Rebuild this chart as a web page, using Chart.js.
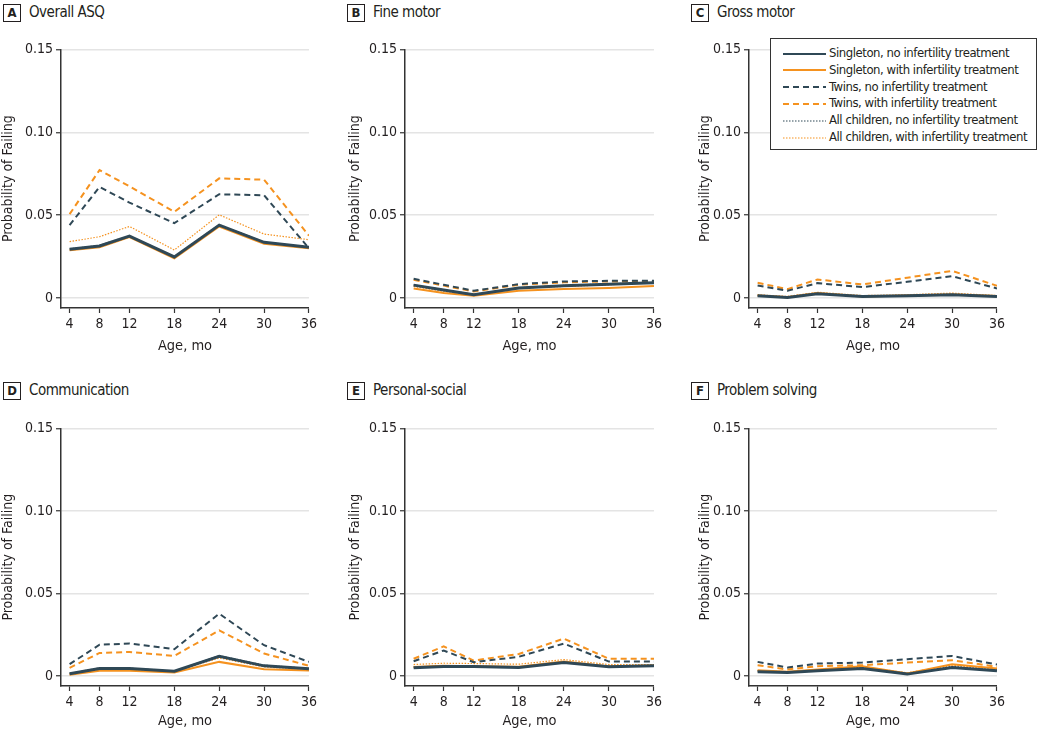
<!DOCTYPE html>
<html>
<head>
<meta charset="utf-8">
<script src="https://cdn.jsdelivr.net/npm/chart.js@4.4.1/dist/chart.umd.min.js"></script>
<style>
  body { margin: 0; background: #fff; width: 1050px; height: 730px; position: relative; overflow: hidden;
         font-family: "Liberation Sans Narrow", "DejaVu Sans Condensed", Roboto, sans-serif; color: #231f20; }
  canvas { position: absolute; }
  .ttl { position: absolute; font-size: 15px; line-height: 18px; white-space: nowrap; letter-spacing: -0.5px; }
  .ttl b { display: inline-block; width: 16px; height: 16px; border: 1px solid #231f20; text-align: center;
           line-height: 16px; font-size: 13px; margin-right: 8px; letter-spacing: 0; }
  .legend { position: absolute; left: 770px; top: 38px; width: 265px; height: 110px; border: 1px solid #333;
            background: #fff; font-size: 13px; letter-spacing: -0.45px; z-index: 2; }
  .row { position: absolute; left: 12px; height: 17px; line-height: 17px; white-space: nowrap; }
  .row svg { vertical-align: middle; margin-right: 3px; }
</style>
</head>
<body>
<script>
  const ages = [4, 8, 12, 18, 24, 30, 36];
  const yTicks = [0, 0.05, 0.1, 0.15];
  const yTickLabels = ["0", "0.05", "0.10", "0.15"];
  const seriesNames = [
    "Singleton, no infertility treatment",
    "Singleton, with infertility treatment",
    "Twins, no infertility treatment",
    "Twins, with infertility treatment",
    "All children, no infertility treatment",
    "All children, with infertility treatment"
  ];

  // A Overall ASQ
  const overallSingNo = [0.0294, 0.0314, 0.0374, 0.0248, 0.044, 0.0336, 0.0306];
  const overallSingTx = [0.0288, 0.0306, 0.0368, 0.024, 0.0432, 0.0328, 0.030];
  const overallTwinNo = [0.044, 0.067, 0.0576, 0.0452, 0.0626, 0.062, 0.030];
  const overallTwinTx = [0.0506, 0.0772, 0.0674, 0.052, 0.0722, 0.0714, 0.0376];
  const overallAllNo = [0.0296, 0.0318, 0.0376, 0.025, 0.0443, 0.0338, 0.0308];
  const overallAllTx = [0.034, 0.037, 0.0432, 0.029, 0.0502, 0.0386, 0.0352];

  // B Fine motor
  const fineSingNo = [0.0078, 0.0048, 0.002, 0.006, 0.0074, 0.0084, 0.0092];
  const fineSingTx = [0.0058, 0.003, 0.0014, 0.0044, 0.0054, 0.006, 0.0072];
  const fineTwinNo = [0.0116, 0.008, 0.0044, 0.0084, 0.010, 0.0104, 0.0104];
  const fineTwinTx = [0.011, 0.0075, 0.004, 0.008, 0.0095, 0.010, 0.010];
  const fineAllNo = [0.008, 0.005, 0.0022, 0.0062, 0.0076, 0.0086, 0.0094];
  const fineAllTx = [0.007, 0.004, 0.002, 0.006, 0.007, 0.008, 0.0095];

  // C Gross motor
  const grossSingNo = [0.0014, 0.0004, 0.0026, 0.001, 0.0014, 0.002, 0.001];
  const grossSingTx = [0.0015, 0.0005, 0.003, 0.001, 0.0015, 0.0022, 0.0012];
  const grossTwinNo = [0.0076, 0.0044, 0.009, 0.0066, 0.0098, 0.0132, 0.0058];
  const grossTwinTx = [0.0092, 0.0054, 0.0112, 0.0082, 0.0123, 0.0164, 0.0074];
  const grossAllNo = [0.0015, 0.0005, 0.0028, 0.0011, 0.0015, 0.0022, 0.0011];
  const grossAllTx = [0.002, 0.001, 0.0035, 0.0015, 0.002, 0.003, 0.0015];

  // D Communication
  const commSingNo = [0.0014, 0.0046, 0.0046, 0.003, 0.012, 0.0062, 0.0044];
  const commSingTx = [0.0008, 0.0032, 0.0032, 0.0022, 0.0086, 0.0042, 0.0034];
  const commTwinNo = [0.0072, 0.019, 0.0197, 0.0163, 0.0378, 0.0187, 0.0086];
  const commTwinTx = [0.005, 0.014, 0.0146, 0.0122, 0.0277, 0.0137, 0.0062];
  const commAllNo = [0.0016, 0.005, 0.0048, 0.003, 0.0124, 0.0066, 0.0046];
  const commAllTx = [0.0012, 0.004, 0.004, 0.0026, 0.011, 0.0055, 0.004];

  // E Personal-social
  const persSingNo = [0.005, 0.0058, 0.0058, 0.0052, 0.0082, 0.0056, 0.0062];
  const persSingTx = [0.0055, 0.0062, 0.006, 0.0056, 0.0088, 0.0058, 0.0064];
  const persTwinNo = [0.009, 0.0155, 0.0084, 0.0117, 0.0197, 0.0088, 0.0088];
  const persTwinTx = [0.0105, 0.018, 0.0094, 0.0134, 0.0227, 0.0105, 0.0105];
  const persAllNo = [0.0055, 0.006, 0.006, 0.0055, 0.0085, 0.006, 0.0065];
  const persAllTx = [0.007, 0.0078, 0.0076, 0.0072, 0.010, 0.007, 0.007];

  // F Problem solving
  const probSingNo = [0.0026, 0.0022, 0.0032, 0.0046, 0.0012, 0.0052, 0.0032];
  const probSingTx = [0.0036, 0.0026, 0.004, 0.006, 0.0016, 0.0072, 0.0046];
  const probTwinNo = [0.0086, 0.0052, 0.0076, 0.0082, 0.0102, 0.0122, 0.007];
  const probTwinTx = [0.0066, 0.004, 0.006, 0.0066, 0.0082, 0.0096, 0.0056];
  const probAllNo = [0.003, 0.0024, 0.0035, 0.005, 0.0015, 0.0058, 0.0036];
  const probAllTx = [0.0034, 0.0026, 0.0038, 0.0055, 0.002, 0.0066, 0.0042];

  const DARK = "#2f4856";
  const ORANGE = "#f5921f";
  const styles = [
    { color: DARK, width: 3, dash: [] },
    { color: ORANGE, width: 2, dash: [] },
    { color: DARK, width: 2, dash: [6, 4] },
    { color: ORANGE, width: 2, dash: [6, 4] },
    { color: DARK, width: 1.2, dash: [1.5, 1.5] },
    { color: ORANGE, width: 1.2, dash: [1.5, 1.5] }
  ];

  const panels = [
    { letter: "A", title: "Overall ASQ", left: 0, top: 38, axisX: 61, right: 311, xh: 47,
      series: [overallSingNo, overallSingTx, overallTwinNo, overallTwinTx, overallAllNo, overallAllTx] },
    { letter: "B", title: "Fine motor", left: 347, top: 38, axisX: 405, right: 656, xh: 47,
      series: [fineSingNo, fineSingTx, fineTwinNo, fineTwinTx, fineAllNo, fineAllTx] },
    { letter: "C", title: "Gross motor", left: 697, top: 38, axisX: 749, right: 999, xh: 47,
      series: [grossSingNo, grossSingTx, grossTwinNo, grossTwinTx, grossAllNo, grossAllTx] },
    { letter: "D", title: "Communication", left: 0, top: 417, axisX: 61, right: 311, xh: 44,
      series: [commSingNo, commSingTx, commTwinNo, commTwinTx, commAllNo, commAllTx] },
    { letter: "E", title: "Personal-social", left: 347, top: 417, axisX: 405, right: 656, xh: 44,
      series: [persSingNo, persSingTx, persTwinNo, persTwinTx, persAllNo, persAllTx] },
    { letter: "F", title: "Problem solving", left: 697, top: 417, axisX: 749, right: 999, xh: 44,
      series: [probSingNo, probSingTx, probTwinNo, probTwinTx, probAllNo, probAllTx] }
  ];

  const FONT = "'Liberation Sans Narrow', 'DejaVu Sans Condensed', Roboto, sans-serif";
  const plotHeight = 260;

  panels.forEach((p, idx) => {
    // panel heading
    const t = document.createElement("div");
    t.className = "ttl";
    t.style.left = (p.axisX - 58) + "px";
    t.style.top = (idx < 3 ? 3 : 381) + "px";
    t.innerHTML = "<b>" + p.letter + "</b>" + p.title;
    document.body.appendChild(t);

    const c = document.createElement("canvas");
    c.width = p.right + 9 - p.left;
    c.height = 10 + plotHeight + p.xh - (idx < 3 ? 0 : 1);
    c.style.left = p.left + "px";
    c.style.top = p.top + "px";
    document.body.appendChild(c);

    new Chart(c, {
      type: "line",
      data: {
        datasets: p.series.map((vals, i) => ({
          label: seriesNames[i],
          data: ages.map((a, j) => ({ x: a, y: vals[j] })),
          borderColor: styles[i].color,
          borderWidth: styles[i].width,
          borderDash: styles[i].dash,
          pointRadius: 0,
          tension: 0,
          fill: false
        }))
      },
      options: {
        responsive: false,
        animation: false,
        layout: { padding: { top: 6, right: 9, left: 0, bottom: 0 } },
        plugins: { legend: { display: false }, tooltip: { enabled: false } },
        scales: {
          x: {
            type: "linear",
            min: 2.85,
            max: 36,
            afterBuildTicks: (s) => { s.ticks = ages.map((v) => ({ value: v })); },
            afterFit: (s) => { s.height = p.xh; },
            grid: { drawOnChartArea: false, drawTicks: true, tickLength: 5, tickColor: "#333", tickWidth: 1.2 },
            border: { display: true, color: "#333", width: 1.5 },
            ticks: { color: "#231f20", font: { family: FONT, size: 14 }, padding: 3, maxRotation: 0 },
            title: { display: true, text: "Age, mo", color: "#231f20", font: { family: FONT, size: 14.5 }, padding: 0 }
          },
          y: {
            min: -0.006,
            max: 0.15,
            afterBuildTicks: (s) => { s.ticks = yTicks.map((v) => ({ value: v })); },
            afterFit: (s) => { s.width = p.axisX - p.left; },
            grid: { color: "#e4e4e4", lineWidth: 1.5, drawTicks: true, tickLength: 5, tickColor: "#333", tickWidth: 1.2 },
            border: { display: true, color: "#333", width: 1.5 },
            ticks: {
              color: "#231f20",
              font: { family: FONT, size: 14 },
              padding: 3,
              callback: (v) => yTickLabels[yTicks.indexOf(v)]
            },
            title: { display: true, text: "Probability of Failing", color: "#231f20", font: { family: FONT, size: 14 }, padding: 0 }
          }
        }
      }
    });
  });

  // legend (panel C)
  const lg = document.createElement("div");
  lg.className = "legend";
  seriesNames.forEach((name, i) => {
    const r = document.createElement("div");
    r.className = "row";
    r.style.top = (5 + i * 16.8) + "px";
    const st = styles[i];
    r.innerHTML = '<svg width="43" height="6"><line x1="0" y1="3" x2="43" y2="3" stroke="' + st.color +
      '" stroke-width="' + Math.min(st.width, 2) + '" stroke-dasharray="' + (st.dash.length ? st.dash.join(",") : "none") +
      '"/></svg>' + name;
    lg.appendChild(r);
  });
  document.body.appendChild(lg);
</script>
</body>
</html>
